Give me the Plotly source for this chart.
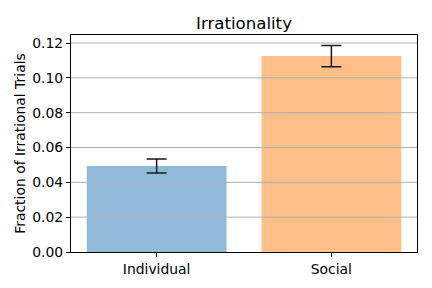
import plotly.graph_objects as go

categories = ["Individual", "Social"]
values = [0.0494, 0.1125]
errors = [0.0040, 0.0061]
colors = ["rgb(143,187,217)", "rgb(255,191,134)"]
yticks = [0.00, 0.02, 0.04, 0.06, 0.08, 0.10, 0.12]
ytick_labels = ["0.00", "0.02", "0.04", "0.06", "0.08", "0.10", "0.12"]

FONT = "DejaVu Sans"

fig = go.Figure()
fig.add_trace(go.Bar(
    x=categories, y=values, width=0.8,
    marker=dict(color=colors, line=dict(width=0)),
    error_y=dict(type="data", array=errors, visible=True,
                 color="#1a1a1a", thickness=1.5, width=10),
    showlegend=False, hoverinfo="skip",
))

# horizontal grid lines drawn above bars (as in reference)
for t in yticks[1:]:
    fig.add_shape(type="line", xref="paper", x0=0, x1=1, yref="y", y0=t, y1=t,
                  line=dict(color="#b0b0b0", width=1), layer="above")

fig.update_layout(
    width=432, height=288,
    margin=dict(l=71, r=15, t=35, b=36, autoexpand=False),
    paper_bgcolor="white", plot_bgcolor="white",
    font=dict(family=FONT, size=13.9, color="black"),
    title=dict(text="Irrationality", x=0.5, xref="paper", xanchor="center",
               y=1, yref="paper", yanchor="bottom", pad=dict(b=6),
               font=dict(family=FONT, size=16.6, color="black")),
    bargap=0.2,
)
fig.update_xaxes(
    range=[-0.49, 1.49], showline=True, linecolor="black", linewidth=1, mirror=True,
    ticks="outside", ticklen=4, tickwidth=1, tickcolor="black", automargin=False,
    showgrid=False, tickfont=dict(size=13.9),
)
fig.update_yaxes(
    range=[0, 0.1246], showline=True, linecolor="black", linewidth=1, mirror=True,
    ticks="outside", ticklen=4, tickwidth=1, tickcolor="black", automargin=False,
    tickvals=yticks, ticktext=ytick_labels, showgrid=False, zeroline=False,
    tickfont=dict(size=13.9),
    title=dict(text="Fraction of Irrational Trials", font=dict(size=13.9), standoff=3),
)

fig.write_html("out.html", config={"displayModeBar": False},
               post_script="document.body.style.margin='0';document.body.style.padding='0';")
